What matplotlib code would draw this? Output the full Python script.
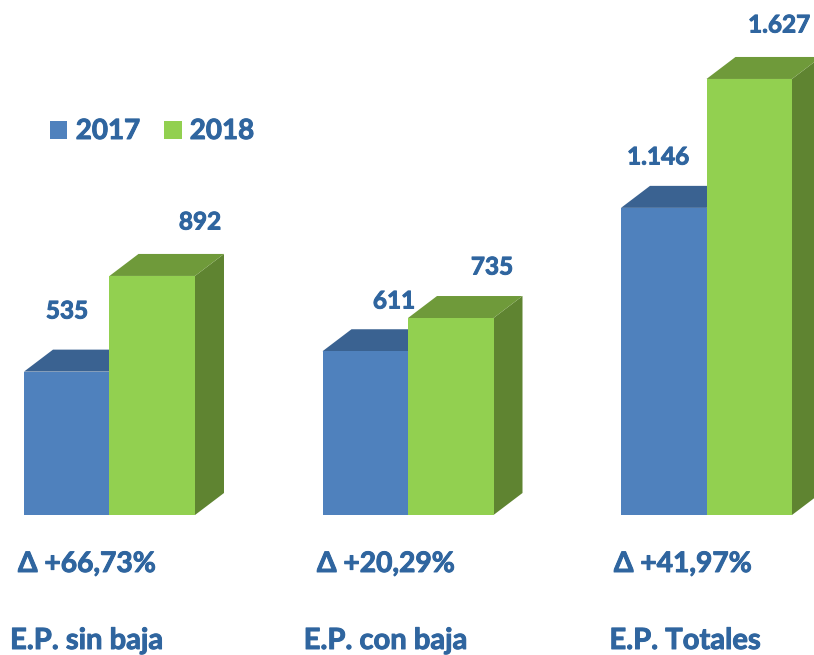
import matplotlib
matplotlib.use("Agg")
import matplotlib.pyplot as plt
import matplotlib.patheffects as pe
from matplotlib.patches import Polygon, Rectangle

categories = ["E.P. sin baja", "E.P. con baja", "E.P. Totales"]
values_2017 = [535, 611, 1146]
values_2018 = [892, 735, 1627]
labels_2017 = ["535", "611", "1.146"]
labels_2018 = ["892", "735", "1.627"]
deltas = ["Δ +66,73%", "Δ +20,29%", "Δ +41,97%"]
series_names = ["2017", "2018"]

W, H = 814, 655
PX_X = 298.5          # pixels per category
PX_Y = 0.268          # pixels per unit
X0, Y0 = 109.5, 515   # pixel of first group centre and of the baseline
BW = 85.5 / PX_X
DX, DY = 29 / PX_X, 22 / PX_Y

TEXT = "#2F659F"
BLUE = ("#4F81BD", "#3A6291", "#3A6291")
GREEN = ("#92D050", "#6F9A3A", "#5F8431")

plt.rcParams["font.family"] = ["Lato", "DejaVu Sans"]
fig = plt.figure(figsize=(W / 100, H / 100), dpi=100)
ax = fig.add_axes([0, 0, 1, 1])
ax.set_xlim(-X0 / PX_X, (W - X0) / PX_X)
ax.set_ylim(-(H - Y0) / PX_Y, Y0 / PX_Y)
ax.axis("off")
thick = [pe.withStroke(linewidth=0.7, foreground=TEXT)]


def bar3d(x, v, cols):
    front, top, side = cols
    ax.add_patch(Polygon([(x + BW, 0), (x + BW + DX, DY), (x + BW + DX, v + DY), (x + BW, v)], fc=side, ec="none", zorder=2))
    ax.add_patch(Polygon([(x, v), (x + DX, v + DY), (x + BW + DX, v + DY), (x + BW, v)], fc=top, ec="none", zorder=2))
    ax.add_patch(Rectangle((x, 0), BW, v, fc=front, ec="none", zorder=3))


def py(p):
    return (Y0 - p) / PX_Y


def px(p):
    return (p - X0) / PX_X


for i in range(len(categories)):
    bar3d(i - BW, values_2017[i], BLUE)
    bar3d(i, values_2018[i], GREEN)

common = dict(color=TEXT, fontweight="bold", ha="center", va="center", path_effects=thick)
blue_lab_xy = [(67, 311), (394, 301), (658, 157)]
green_lab_xy = [(200, 222), (492, 267), (779, 25)]
for i in range(len(categories)):
    ax.text(px(blue_lab_xy[i][0]), py(blue_lab_xy[i][1]), labels_2017[i], fontsize=17.5, **common)
    ax.text(px(green_lab_xy[i][0]), py(green_lab_xy[i][1]), labels_2018[i], fontsize=17.5, **common)
    ax.text(px([87, 386, 683][i]), py(564), deltas[i], fontsize=20.3, **common)
    ax.text(px([86.5, 385.5, 685][i]), py(641), categories[i], fontsize=21, **common)

# legend
ax.add_patch(Rectangle((px(50.5), py(138.5)), 17 / PX_X, 18 / PX_Y, fc=BLUE[0], ec="none"))
ax.add_patch(Rectangle((px(163.5), py(138.5)), 18 / PX_X, 18 / PX_Y, fc=GREEN[0], ec="none"))
for xp, name in zip((108, 222), series_names):
    ax.text(px(xp), py(131), name, fontsize=20, **common)

fig.savefig("out.png", dpi=100)
